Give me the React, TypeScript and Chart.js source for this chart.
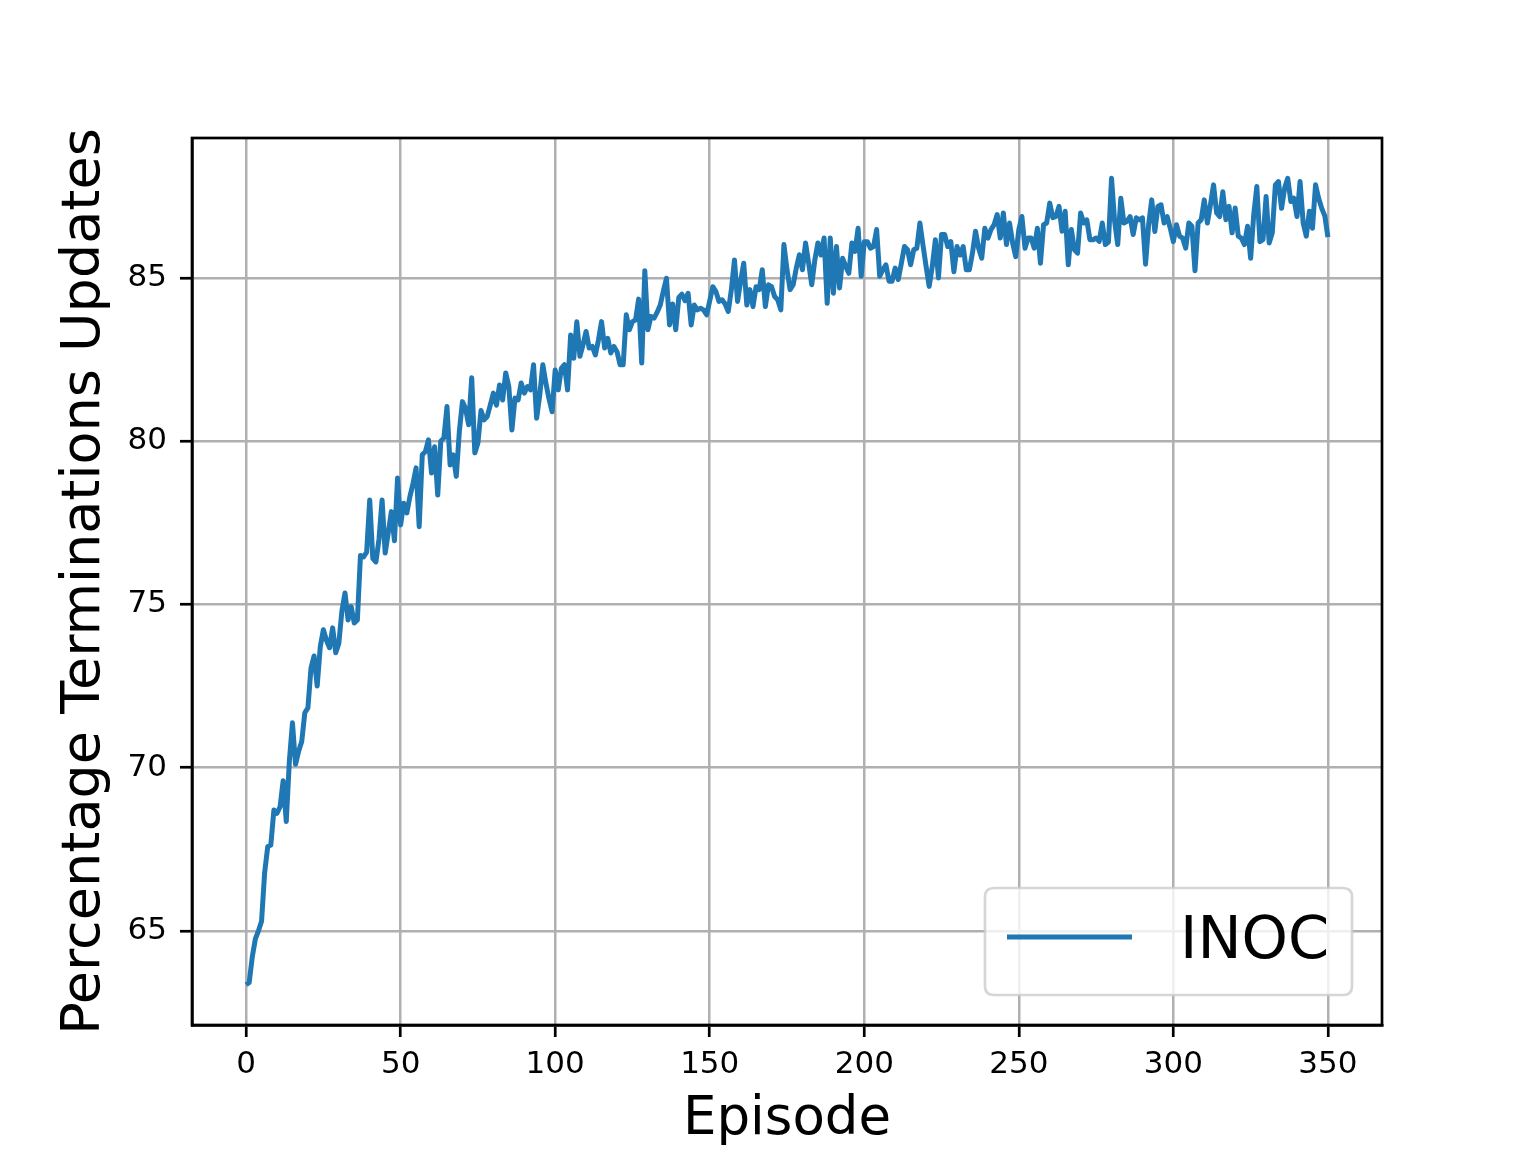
import React, { useEffect, useRef } from "react";
import { Chart, registerables } from "chart.js";

Chart.register(...registerables);

const FONT = "'DejaVu Sans', sans-serif";
const seriesName = "INOC";
const xLabel = "Episode";
const yLabel = "Percentage Terminations Updates";
const xTicks = [0, 50, 100, 150, 200, 250, 300, 350];
const yTicks = [65, 70, 75, 80, 85];

// values for episodes 0..350
const values = [
  63.35, 63.42, 64.2, 64.75, 65.0, 65.29, 66.78, 67.58, 67.63, 68.7,
  68.6, 68.8, 69.6, 68.35, 70.2, 71.37, 70.1, 70.5, 70.8, 71.68,
  71.83, 73.05, 73.42, 72.5, 73.7, 74.22, 73.9, 73.67, 74.28, 73.52,
  73.8, 74.8, 75.35, 74.52, 74.93, 74.43, 74.52, 76.5, 76.45, 76.6,
  78.2, 76.4, 76.3, 77.0, 78.2, 76.57, 77.2, 77.84, 76.95, 78.87,
  77.43, 78.1, 77.8, 78.3, 78.7, 79.18, 77.38, 79.58, 79.68, 80.04,
  79.02, 79.83, 78.35, 80.0, 80.1, 81.06, 79.27, 79.58, 78.92, 80.3,
  81.21, 81.0, 80.5, 81.94, 79.64, 79.94, 80.94, 80.65, 80.75, 81.1,
  81.47, 81.1, 81.72, 81.26, 82.09, 81.67, 80.34, 81.32, 81.26, 81.78,
  81.47, 81.67, 81.57, 82.34, 80.7, 81.4, 82.34, 81.77, 81.3, 80.9,
  82.18, 81.57, 82.23, 82.34, 81.57, 83.25, 82.54, 83.66, 82.6, 82.95,
  83.36, 82.85, 82.9, 82.64, 83.1, 83.66, 82.85, 83.15, 82.7, 82.9,
  82.74, 82.34, 82.34, 83.87, 83.41, 83.66, 83.71, 84.35, 82.39, 85.22,
  83.41, 83.82, 83.77, 83.95, 84.17, 84.6, 84.99, 83.56, 84.2, 83.41,
  84.4, 84.5, 84.3, 84.53, 83.56, 84.17, 84.02, 84.07, 84.02, 83.87,
  84.3, 84.73, 84.58, 84.28, 84.33, 84.2, 83.97, 84.64, 85.55, 84.28,
  84.9, 85.45, 84.17, 84.64, 84.12, 84.73, 84.64, 85.25, 84.12, 84.79,
  84.73, 84.43, 84.33, 84.02, 86.02, 85.25, 84.64, 84.79, 85.3, 85.71,
  85.25, 86.07, 85.45, 84.79, 85.55, 86.07, 85.7, 86.22, 84.22, 86.22,
  84.53, 85.96, 84.69, 85.6, 85.35, 85.14, 86.07, 85.81, 86.52, 85.05,
  86.11, 86.11, 85.91, 85.96, 86.48, 85.05, 85.25, 85.4, 84.9, 84.9,
  85.3, 84.95, 85.45, 85.96, 85.86, 85.4, 85.86, 85.91, 86.68, 86.0,
  85.35, 84.74, 85.35, 86.17, 85.0, 86.33, 86.33, 85.96, 86.11, 85.19,
  85.96, 85.7, 85.96, 85.25, 85.25, 85.76, 86.43, 85.91, 85.6, 86.52,
  86.22, 86.48, 86.63, 86.94, 86.22, 86.99, 86.02, 86.68, 86.07, 85.65,
  86.48, 86.88, 85.91, 86.22, 86.22, 85.91, 86.52, 85.45, 86.63, 86.68,
  87.29, 86.84, 86.88, 87.19, 86.43, 87.04, 85.4, 86.48, 85.86, 85.76,
  86.99, 86.68, 86.78, 86.17, 86.17, 86.22, 86.12, 86.68, 86.02, 86.1,
  88.05, 86.73, 86.02, 87.44, 86.68, 86.73, 86.88, 86.33, 86.84, 86.78,
  86.84, 85.42, 86.63, 87.39, 86.42, 87.19, 87.24, 86.68, 86.88, 86.52,
  86.11, 86.63, 86.28, 86.22, 85.91, 86.68, 86.58, 85.22, 86.68, 86.78,
  87.39, 86.68, 87.24, 87.85, 86.99, 86.88, 87.64, 86.78, 87.19, 86.38,
  87.14, 86.28, 86.22, 86.02, 86.58, 85.6, 86.93, 87.8, 86.11, 86.17,
  87.49, 86.07, 86.38, 87.85, 87.95, 87.13, 87.75, 88.05, 87.34, 87.44,
  86.88, 87.95, 86.68, 86.28, 87.04, 86.52, 87.85, 87.44, 87.13, 86.9,
  86.25,
];

const episodes = values.map((_, i) => i);

const LINE_COLOR = "#1f77b4";

const framePlugin = {
  id: "mplFrame",
  afterDraw(chart: any) {
    const { ctx, chartArea } = chart;
    const { left, right, top, bottom } = chartArea;
    ctx.save();
    // frame (spines)
    ctx.strokeStyle = "#000";
    ctx.lineWidth = 2.7;
    ctx.strokeRect(left, top, right - left, bottom - top);

    // legend
    const bx1 = right - 30;
    const by1 = bottom - 30;
    const bw = 367;
    const bh = 107;
    const bx0 = bx1 - bw;
    const by0 = by1 - bh;
    const r = 9;
    ctx.beginPath();
    ctx.moveTo(bx0 + r, by0);
    ctx.lineTo(bx1 - r, by0);
    ctx.quadraticCurveTo(bx1, by0, bx1, by0 + r);
    ctx.lineTo(bx1, by1 - r);
    ctx.quadraticCurveTo(bx1, by1, bx1 - r, by1);
    ctx.lineTo(bx0 + r, by1);
    ctx.quadraticCurveTo(bx0, by1, bx0, by1 - r);
    ctx.lineTo(bx0, by0 + r);
    ctx.quadraticCurveTo(bx0, by0, bx0 + r, by0);
    ctx.closePath();
    ctx.fillStyle = "rgba(255,255,255,0.8)";
    ctx.fill();
    ctx.strokeStyle = "rgba(204,204,204,0.8)";
    ctx.lineWidth = 2.7;
    ctx.stroke();

    const ly = by0 + 49;
    ctx.beginPath();
    ctx.moveTo(bx0 + 22, ly);
    ctx.lineTo(bx0 + 147, ly);
    ctx.strokeStyle = LINE_COLOR;
    ctx.lineWidth = 5;
    ctx.stroke();

    ctx.fillStyle = "#000";
    ctx.font = `59px ${FONT}`;
    ctx.textAlign = "left";
    ctx.textBaseline = "alphabetic";
    ctx.fillText(seriesName, bx0 + 195, by0 + 70);
    ctx.restore();
  },
};

export default function App() {
  const canvasRef = useRef<HTMLCanvasElement | null>(null);

  useEffect(() => {
    document.body.style.margin = "0";
    const canvas = canvasRef.current;
    if (!canvas) return;
    const tickFont = { family: FONT, size: 31 };
    const chart = new Chart(canvas, {
      type: "line",
      data: {
        datasets: [
          {
            label: seriesName,
            data: episodes.map((e, i) => ({ x: e, y: values[i] })),
            borderColor: LINE_COLOR,
            borderWidth: 5,
            pointRadius: 0,
            tension: 0,
            fill: false,
            borderJoinStyle: "round",
          },
        ],
      },
      options: {
        responsive: false,
        animation: false,
        devicePixelRatio: 1,
        layout: { padding: { left: 0, right: 154, top: 138, bottom: 0 } },
        plugins: { legend: { display: false }, tooltip: { enabled: false } },
        scales: {
          x: {
            type: "linear",
            min: -17.5,
            max: 367.5,
            afterBuildTicks: (s: any) => {
              s.ticks = xTicks.map((v) => ({ value: v }));
            },
            afterFit: (s: any) => {
              s.height = 127;
            },
            ticks: {
              font: tickFont,
              color: "#000",
              padding: 9,
              maxRotation: 0,
              autoSkip: false,
              callback: (v: any) => String(v),
            },
            grid: {
              color: "#b0b0b0",
              lineWidth: 2.5,
              tickColor: "#000",
              tickLength: 12,
              tickWidth: 2.7,
            },
            border: { display: true, color: "#000", width: 2.7 },
            title: {
              display: true,
              text: xLabel,
              color: "#000",
              font: { family: FONT, size: 53 },
              padding: { top: 0, bottom: 0 },
            },
          },
          y: {
            type: "linear",
            min: 62.115,
            max: 89.285,
            afterBuildTicks: (s: any) => {
              s.ticks = yTicks.map((v) => ({ value: v }));
            },
            afterFit: (s: any) => {
              s.width = 192;
            },
            ticks: {
              font: tickFont,
              color: "#000",
              padding: 13,
              autoSkip: false,
              callback: (v: any) => String(v),
            },
            grid: {
              color: "#b0b0b0",
              lineWidth: 2.5,
              tickColor: "#000",
              tickLength: 12,
              tickWidth: 2.7,
            },
            border: { display: true, color: "#000", width: 2.7 },
            title: {
              display: true,
              text: yLabel,
              color: "#000",
              font: { family: FONT, size: 54 },
              padding: { top: 53, bottom: 0 },
            },
          },
        },
      },
      plugins: [framePlugin],
    } as any);
    return () => chart.destroy();
  }, []);

  return (
    <div style={{ width: 1536, height: 1152, background: "#fff" }}>
      <canvas ref={canvasRef} width={1536} height={1152} style={{ display: "block" }} />
    </div>
  );
}
